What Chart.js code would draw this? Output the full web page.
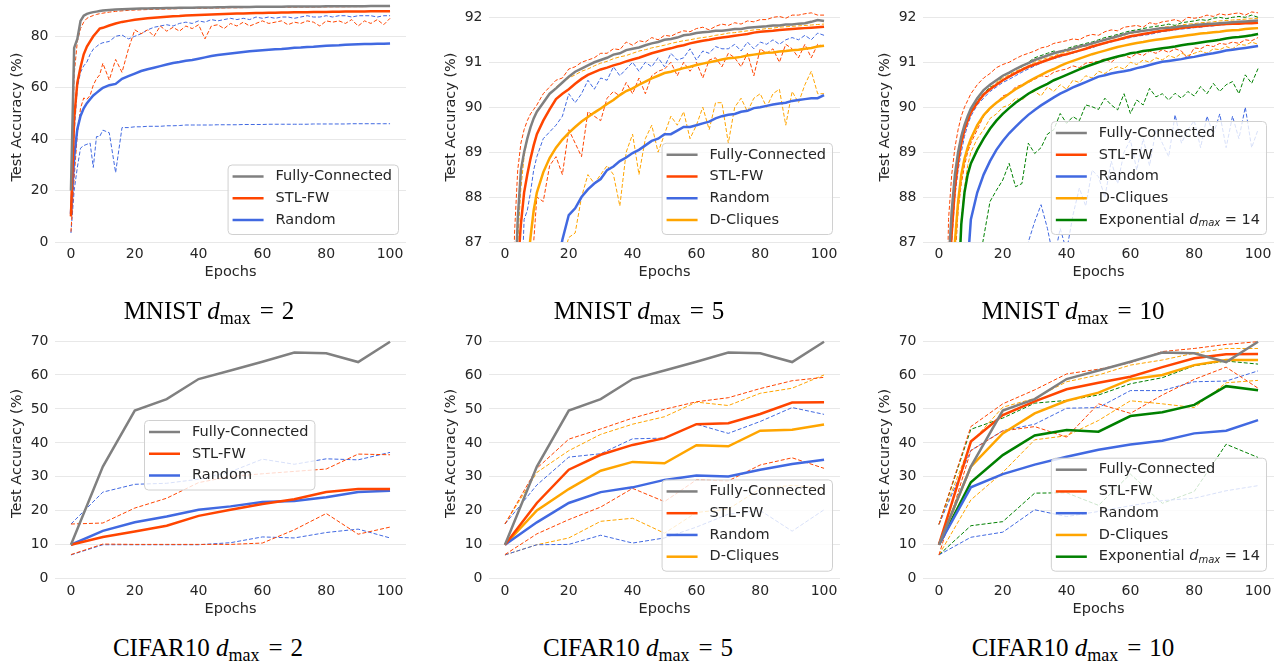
<!DOCTYPE html>
<html>
<head>
<meta charset="utf-8">
<title>Test accuracy vs epochs</title>
<script src="https://cdn.jsdelivr.net/npm/chart.js@4.4.0/dist/chart.umd.min.js"></script>
<style>
  body { margin: 0; background: #fff; width: 1283px; height: 662px; overflow: hidden; position: relative; }
  canvas { position: absolute; }
  .cap { position: absolute; width: 300px; text-align: center; font-family: "Liberation Serif", serif; font-size: 25px; line-height: 28px; color: #000; white-space: nowrap; }
  .cap .sub { font-size: 18px; position: relative; top: 5px; }
  .cap .eq { margin: 0 8px 0 9px; }
</style>
</head>
<body>
<canvas id="c1" width="420" height="317" style="left:0px;top:-30px"></canvas>
<canvas id="c2" width="420" height="317" style="left:434px;top:-30px"></canvas>
<canvas id="c3" width="420" height="317" style="left:868px;top:-30px"></canvas>
<canvas id="c4" width="420" height="324" style="left:0px;top:300px"></canvas>
<canvas id="c5" width="420" height="324" style="left:434px;top:300px"></canvas>
<canvas id="c6" width="420" height="324" style="left:868px;top:300px"></canvas>

<div class="cap" style="left:59px;top:297px">MNIST <i>d</i><span class="sub">max</span><span class="eq">=</span>2</div>
<div class="cap" style="left:489px;top:297px">MNIST <i>d</i><span class="sub">max</span><span class="eq">=</span>5</div>
<div class="cap" style="left:923px;top:297px">MNIST <i>d</i><span class="sub">max</span><span class="eq">=</span>10</div>
<div class="cap" style="left:58px;top:634px">CIFAR10 <i>d</i><span class="sub">max</span><span class="eq">=</span>2</div>
<div class="cap" style="left:488px;top:634px">CIFAR10 <i>d</i><span class="sub">max</span><span class="eq">=</span>5</div>
<div class="cap" style="left:923px;top:634px">CIFAR10 <i>d</i><span class="sub">max</span><span class="eq">=</span>10</div>

<script>
// ---- data ----
const MNIST_EPOCHS = [0, 1, 2, 3, 4, 5, 6, 7, 8, 9, 10,
  12, 14, 16, 18, 20, 22, 24, 26, 28, 30,
  32, 34, 36, 38, 40, 42, 44, 46, 48, 50,
  52, 54, 56, 58, 60, 62, 64, 66, 68, 70,
  72, 74, 76, 78, 80, 82, 84, 86, 88, 90,
  92, 94, 96, 98, 100];
const CIFAR_EPOCHS = [0, 10, 20, 30, 40, 50, 60, 70, 80, 90, 100];

const X_TICKS = [0, 20, 40, 60, 80, 100];
const MNIST2_Y_TICKS = [0, 20, 40, 60, 80];
const MNIST_ZOOM_Y_TICKS = [87, 88, 89, 90, 91, 92];
const CIFAR_Y_TICKS = [0, 10, 20, 30, 40, 50, 60, 70];

// MNIST d_max = 2
const mnist2FC = [20, 75.5, 79, 86, 88, 88.7, 89.1, 89.4, 89.6, 89.8, 90.0,
  90.2, 90.4, 90.5, 90.6, 90.7, 90.8, 90.85, 90.9, 90.95, 91.0,
  91.05, 91.1, 91.1, 91.15, 91.2, 91.2, 91.25, 91.3, 91.3, 91.35,
  91.35, 91.4, 91.4, 91.45, 91.45, 91.5, 91.5, 91.5, 91.55, 91.55,
  91.55, 91.6, 91.6, 91.6, 91.65, 91.65, 91.65, 91.7, 91.7, 91.7,
  91.7, 91.75, 91.75, 91.75, 91.8];
const mnist2STL = [10, 48, 62, 68, 73, 76, 78, 80, 81.5, 83, 83.3,
  84.2, 85, 85.6, 86, 86.4, 86.7, 87, 87.2, 87.4, 87.6,
  87.8, 87.9, 88.1, 88.2, 88.3, 88.4, 88.5, 88.6, 88.7, 88.8,
  88.85, 88.9, 89.0, 89.05, 89.1, 89.15, 89.2, 89.25, 89.3, 89.35,
  89.4, 89.4, 89.45, 89.5, 89.5, 89.55, 89.55, 89.6, 89.6, 89.65,
  89.65, 89.7, 89.7, 89.7, 89.75];
const mnist2Rand = [11, 33, 44, 49, 52, 54, 55.5, 57, 58, 59, 60,
  61, 61.5, 63.5, 64.5, 65.5, 66.5, 67.2, 67.8, 68.4, 69,
  69.6, 70, 70.5, 70.8, 71.3, 71.8, 72.3, 72.7, 73, 73.3,
  73.6, 73.9, 74.2, 74.4, 74.6, 74.8, 75, 75.1, 75.3, 75.5,
  75.6, 75.8, 75.9, 76.1, 76.3, 76.4, 76.5, 76.7, 76.8, 76.9,
  77, 77.05, 77.1, 77.15, 77.2];
const mnist2STLMax = [10, 65, 78, 83, 85.5, 87, 87.6, 88.1, 88.5, 88.8, 89.0,
  89.4, 89.7, 89.9, 90.1, 90.2, 90.3, 90.4, 90.5, 90.55, 90.6,
  90.7, 90.75, 90.8, 90.85, 90.9, 90.95, 91.0, 91.0, 91.05, 91.1,
  91.1, 91.15, 91.2, 91.2, 91.25, 91.25, 91.3, 91.3, 91.35, 91.35,
  91.4, 91.4, 91.4, 91.45, 91.45, 91.5, 91.5, 91.5, 91.55, 91.55,
  91.55, 91.6, 91.6, 91.6, 91.65];
const mnist2STLMin = [4, 25, 42, 52, 56, 55.5, 57, 61, 63.5, 65, 69.5,
  63, 71, 66, 75, 82.5, 81, 82.5, 80, 84, 82,
  83.5, 82, 84, 83, 84.5, 79, 84, 84.5, 83, 85,
  84, 85.5, 84, 85, 86, 85, 85.5, 86, 84.5, 85.5,
  85, 86, 85.5, 84, 86, 85.5, 86, 85, 86.5, 84,
  86, 85, 86.5, 84.5, 87];
const mnist2RandMax = [10, 42, 60, 66, 68.5, 70, 73, 75, 76, 77, 77.5,
  78, 80, 80.5, 79, 80, 81, 82.5, 83.5, 84, 84.5,
  84, 85, 85.5, 85, 86, 85.5, 86.5, 86, 86.5, 87,
  86.5, 87, 86.5, 87.5, 87, 87.5, 87, 87.5, 87.5, 87,
  87.5, 88, 87.5, 87.5, 88, 87.5, 88, 88, 87.5, 88,
  88, 88, 87.5, 88, 88];
const mnist2RandMin = [3.5, 20, 29, 36.5, 37.5, 38, 38.5, 29, 41, 41, 43.5,
  42.5, 27, 44.5, 44.5, 44.8, 44.8, 45, 45, 45, 45.2,
  45.2, 45.3, 45.5, 45.5, 45.5, 45.5, 45.5, 45.6, 45.6, 45.6,
  45.6, 45.7, 45.7, 45.7, 45.7, 45.8, 45.8, 45.8, 45.8, 45.8,
  45.8, 45.8, 45.9, 45.9, 45.9, 45.9, 45.9, 45.9, 46, 46,
  46, 46, 46, 46, 46];

// MNIST d_max = 5
const mnist5FC = [10, 60, 80, 85.5, 87.5, 88.6, 89.0, 89.3, 89.55, 89.75, 89.9,
  90.1, 90.3, 90.42, 90.55, 90.68, 90.79, 90.86, 90.93, 91.0, 91.05,
  91.1, 91.17, 91.2, 91.27, 91.3, 91.33, 91.38, 91.42, 91.45, 91.5,
  91.52, 91.55, 91.6, 91.62, 91.65, 91.67, 91.68, 91.7, 91.7, 91.72,
  91.74, 91.74, 91.77, 91.78, 91.79, 91.8, 91.82, 91.82, 91.84, 91.84,
  91.86, 91.87, 91.9, 91.94, 91.92];
const mnist5STL = [10, 55, 75, 83, 86.4, 87.4, 88.1, 88.5, 88.85, 89.15, 89.4,
  89.7, 89.95, 90.18, 90.3, 90.4, 90.52, 90.63, 90.72, 90.78, 90.84,
  90.88, 90.93, 90.97, 91.02, 91.06, 91.1, 91.15, 91.2, 91.24, 91.28,
  91.31, 91.35, 91.38, 91.42, 91.45, 91.48, 91.5, 91.53, 91.55, 91.57,
  91.59, 91.61, 91.63, 91.66, 91.68, 91.69, 91.7, 91.72, 91.73, 91.74,
  91.75, 91.76, 91.77, 91.78, 91.79];
const mnist5DC = [10, 40, 65, 76, 81, 83.5, 85.2, 86.4, 87.1, 87.7, 88.1,
  88.55, 88.87, 89.1, 89.28, 89.43, 89.56, 89.68, 89.78, 89.88, 89.97,
  90.07, 90.16, 90.27, 90.36, 90.42, 90.5, 90.57, 90.64, 90.7, 90.76,
  90.79, 90.83, 90.87, 90.9, 90.94, 90.97, 91.0, 91.03, 91.06, 91.09,
  91.1, 91.12, 91.15, 91.17, 91.19, 91.21, 91.22, 91.24, 91.25, 91.27,
  91.28, 91.3, 91.32, 91.35, 91.37];
const mnist5Rand = [10, 30, 50, 62, 70, 74, 77, 79, 80.5, 81.8, 82.8,
  84.2, 85.3, 86.3, 87.05, 87.6, 87.75, 88.0, 88.17, 88.3, 88.4,
  88.6, 88.68, 88.8, 88.88, 88.98, 89.05, 89.15, 89.25, 89.3, 89.4,
  89.4, 89.48, 89.56, 89.56, 89.6, 89.64, 89.68, 89.75, 89.8, 89.83,
  89.85, 89.9, 89.92, 89.98, 90.0, 90.03, 90.06, 90.08, 90.1, 90.14,
  90.16, 90.18, 90.2, 90.2, 90.27];
const mnist5STLMax = [10, 65, 83, 87.2, 88.6, 89.2, 89.5, 89.7, 89.85, 89.95, 90.05,
  90.3, 90.45, 90.6, 90.65, 90.85, 90.9, 91.0, 91.05, 91.1, 91.2,
  91.2, 91.3, 91.28, 91.45, 91.38, 91.48, 91.45, 91.55, 91.5, 91.6,
  91.58, 91.65, 91.7, 91.68, 91.75, 91.78, 91.72, 91.8, 91.85, 91.82,
  91.88, 91.85, 91.92, 91.9, 91.95, 91.95, 92.0, 92.02, 91.98, 92.05,
  92.05, 92.08, 92.1, 92.05, 92.05];
const mnist5STLMin = [10, 30, 55, 70, 78, 82, 84, 85.5, 86.5, 87.0, 88.0,
  87.9, 88.7, 88.9, 88.5, 89.5, 89.2, 88.9, 89.9, 89.8, 89.7,
  90.2, 90.35, 90.25, 90.55, 90.3, 90.65, 90.3, 90.7, 90.8, 90.85,
  91.0, 90.7, 91.0, 90.8, 91.0, 90.65, 91.05, 91.1, 90.9, 91.2,
  91.1, 90.9, 91.2, 90.7, 91.3, 91.2, 91.3, 91.0, 91.4, 91.3,
  91.1, 91.4, 91.1, 91.4, 91.35];
const mnist5DCMax = [10, 55, 78, 85, 87.0, 88.2, 88.9, 89.3, 89.55, 89.75, 89.9,
  90.1, 90.3, 90.45, 90.55, 90.65, 90.72, 90.8, 90.85, 90.92, 90.98,
  91.02, 91.08, 91.12, 91.15, 91.2, 91.25, 91.28, 91.32, 91.35, 91.38,
  91.42, 91.45, 91.48, 91.5, 91.53, 91.55, 91.57, 91.6, 91.62, 91.65,
  91.66, 91.68, 91.7, 91.72, 91.73, 91.75, 91.76, 91.78, 91.79, 91.8,
  91.81, 91.82, 91.83, 91.84, 91.85];
const mnist5DCMin = [10, 20, 40, 55, 65, 72, 76, 79, 81, 82.5, 83.5,
  84.5, 85.3, 86, 86.6, 87.1, 87.2, 88.0, 88.5, 88.3, 88.5,
  88.7, 88.5, 87.8, 89.0, 89.4, 88.5, 89.3, 89.6, 89.0, 89.4,
  89.8, 89.6, 89.9, 89.3, 89.6, 90.0, 89.5, 90.1, 90.1, 89.2,
  90.0, 90.2, 89.9, 90.2, 90.3, 90.0, 90.3, 90.4, 89.6, 90.35,
  90.1, 90.5, 90.8, 90.3, 90.3];
const mnist5RandMax = [10, 40, 65, 76, 82, 85.5, 87.5, 87.7, 88.1, 88.6, 88.9,
  89.3, 89.45, 89.6, 89.8, 90.3, 90.1, 90.3, 90.6, 90.4, 90.65,
  90.6, 90.9, 90.7, 90.85, 91.0, 90.8, 91.0, 90.9, 91.1, 90.9,
  91.2, 91.05, 91.1, 91.3, 91.05, 91.25, 91.2, 91.35, 91.3, 91.3,
  91.4, 91.25, 91.45, 91.3, 91.45, 91.4, 91.5, 91.4, 91.5, 91.55,
  91.5, 91.6, 91.5, 91.65, 91.6];

// MNIST d_max = 10
const mnist10FC = [10, 62, 82, 86.5, 87.7, 88.5, 89.0, 89.35, 89.6, 89.8, 89.97,
  90.2, 90.38, 90.5, 90.6, 90.7, 90.77, 90.85, 90.92, 90.98, 91.05,
  91.1, 91.15, 91.2, 91.24, 91.27, 91.3, 91.35, 91.38, 91.42, 91.46,
  91.5, 91.54, 91.58, 91.62, 91.66, 91.68, 91.7, 91.72, 91.74, 91.76,
  91.77, 91.78, 91.8, 91.81, 91.83, 91.84, 91.85, 91.86, 91.87, 91.88,
  91.89, 91.9, 91.91, 91.92, 91.93];
const mnist10STL = [10, 58, 80, 86, 87.2, 88.2, 88.8, 89.2, 89.5, 89.7, 89.88,
  90.1, 90.28, 90.4, 90.5, 90.6, 90.68, 90.76, 90.83, 90.9, 90.95,
  91.0, 91.05, 91.1, 91.15, 91.18, 91.22, 91.26, 91.3, 91.35, 91.39,
  91.43, 91.47, 91.5, 91.54, 91.58, 91.6, 91.63, 91.65, 91.68, 91.7,
  91.72, 91.74, 91.76, 91.78, 91.79, 91.8, 91.82, 91.83, 91.84, 91.85,
  91.86, 91.86, 91.87, 91.87, 91.88];
const mnist10DC = [10, 45, 72, 82, 85.5, 87.0, 87.9, 88.5, 88.85, 89.1, 89.3,
  89.6, 89.82, 89.98, 90.1, 90.2, 90.3, 90.4, 90.48, 90.57, 90.65,
  90.72, 90.79, 90.85, 90.92, 90.98, 91.03, 91.08, 91.13, 91.18, 91.22,
  91.26, 91.3, 91.34, 91.37, 91.4, 91.43, 91.45, 91.48, 91.5, 91.52,
  91.54, 91.56, 91.58, 91.6, 91.62, 91.64, 91.65, 91.67, 91.68, 91.7,
  91.71, 91.72, 91.74, 91.75, 91.76];
const mnist10Rand = [10, 25, 45, 60, 70, 76, 80, 83, 85, 86.5, 87.5,
  88.1, 88.5, 88.8, 89.05, 89.25, 89.42, 89.56, 89.7, 89.83, 89.94,
  90.04, 90.13, 90.22, 90.3, 90.37, 90.44, 90.5, 90.56, 90.62, 90.68,
  90.71, 90.75, 90.78, 90.8, 90.83, 90.87, 90.9, 90.94, 90.98, 91.01,
  91.03, 91.05, 91.07, 91.1, 91.12, 91.15, 91.18, 91.2, 91.23, 91.26,
  91.28, 91.3, 91.32, 91.34, 91.36];
const mnist10Exp = [10, 35, 60, 74, 80, 83.5, 85.8, 87.4, 88.1, 88.5, 88.75,
  89.05, 89.3, 89.52, 89.7, 89.85, 89.98, 90.1, 90.2, 90.3, 90.38,
  90.45, 90.52, 90.6, 90.66, 90.72, 90.78, 90.84, 90.9, 90.95, 91.0,
  91.05, 91.09, 91.13, 91.16, 91.2, 91.22, 91.25, 91.27, 91.29, 91.31,
  91.33, 91.35, 91.38, 91.4, 91.42, 91.44, 91.46, 91.48, 91.5, 91.53,
  91.55, 91.56, 91.58, 91.6, 91.63];
const mnist10STLMax = [10, 66, 84, 87.5, 88.5, 89.1, 89.5, 89.8, 90.0, 90.15, 90.3,
  90.5, 90.65, 90.75, 90.88, 90.95, 91.0, 91.08, 91.15, 91.2, 91.25,
  91.32, 91.35, 91.42, 91.45, 91.48, 91.52, 91.5, 91.58, 91.62, 91.6,
  91.68, 91.72, 91.7, 91.78, 91.8, 91.82, 91.78, 91.88, 91.85, 91.9,
  91.92, 91.95, 91.9, 92.0, 91.98, 92.0, 92.05, 92.02, 92.08, 92.05,
  92.08, 92.1, 92.05, 92.12, 92.1];
const mnist10STLMin = [10, 40, 66, 78, 84, 86.5, 87.7, 88.3, 88.7, 89.0, 89.2,
  89.5, 89.8, 89.95, 90.1, 90.25, 90.3, 90.45, 90.5, 90.55, 90.62,
  90.7, 90.68, 90.78, 90.82, 90.85, 90.92, 90.88, 90.98, 91.0, 91.02,
  91.08, 91.0, 91.12, 91.15, 91.1, 91.2, 91.15, 91.25, 91.2, 91.28,
  91.22, 91.3, 91.25, 91.08, 91.32, 91.3, 91.38, 91.35, 91.42, 91.4,
  91.45, 91.42, 91.5, 91.48, 91.55];
const mnist10DCMax = [10, 60, 80, 86, 87.4, 88.3, 88.8, 89.2, 89.5, 89.7, 89.88,
  90.1, 90.3, 90.42, 90.55, 90.65, 90.72, 90.8, 90.86, 90.92, 91.0,
  91.05, 91.1, 91.14, 91.2, 91.23, 91.28, 91.32, 91.36, 91.4, 91.45,
  91.5, 91.52, 91.56, 91.6, 91.64, 91.66, 91.7, 91.72, 91.75, 91.78,
  91.79, 91.8, 91.83, 91.85, 91.86, 91.88, 91.89, 91.9, 91.92, 91.93,
  91.94, 91.95, 91.96, 91.97, 91.98];
const mnist10DCMin = [10, 30, 55, 70, 78, 83, 86, 87.5, 88.2, 88.7, 89.0,
  89.3, 89.5, 89.75, 89.85, 90.0, 90.05, 90.2, 90.15, 90.3, 90.35,
  90.25, 90.45, 90.35, 90.5, 90.4, 90.6, 90.55, 90.7, 90.65, 90.8,
  90.75, 90.85, 90.9, 90.85, 91.0, 90.95, 91.05, 91.0, 91.1, 91.05,
  91.15, 91.1, 91.2, 91.15, 91.2, 91.25, 91.2, 91.3, 91.28, 91.35,
  91.3, 91.4, 91.38, 91.45, 91.4];
const mnist10RandMax = [10, 55, 78, 85, 87.0, 88.0, 88.6, 89.0, 89.35, 89.6, 89.8,
  90.05, 90.2, 90.35, 90.45, 90.55, 90.62, 90.7, 90.78, 90.85, 90.92,
  90.98, 91.05, 91.08, 91.12, 91.18, 91.2, 91.25, 91.3, 91.32, 91.38,
  91.42, 91.45, 91.5, 91.52, 91.55, 91.58, 91.6, 91.62, 91.65, 91.68,
  91.7, 91.72, 91.74, 91.75, 91.77, 91.78, 91.8, 91.81, 91.83, 91.84,
  91.85, 91.86, 91.88, 91.9, 91.9];
const mnist10RandMin = [3, 10, 20, 30, 40, 50, 58, 64, 68, 71, 74,
  77, 79, 80.5, 82, 83, 84, 84.8, 85.5, 87.0, 87.45,
  87.83, 87.3, 86.6, 87.3, 86.8, 87.6, 88.2, 87.8, 88.6, 88.45,
  88.0, 88.8, 88.3, 89.0, 89.27, 88.6, 89.3, 88.7, 89.5, 89.2,
  88.9, 89.83, 89.2, 89.5, 89.7, 89.1, 89.8, 89.4, 89.85, 89.1,
  89.8, 89.3, 90.0, 89.1, 89.5];
const mnist10ExpMax = [10, 58, 80, 86, 87.3, 88.2, 88.8, 89.25, 89.55, 89.75, 89.9,
  90.15, 90.3, 90.45, 90.5, 90.7, 90.75, 90.85, 90.9, 91.0, 91.1,
  91.15, 91.2, 91.25, 91.22, 91.3, 91.35, 91.38, 91.42, 91.45, 91.5,
  91.55, 91.58, 91.62, 91.66, 91.7, 91.72, 91.75, 91.78, 91.8, 91.82,
  91.85, 91.82, 91.88, 91.9, 91.92, 91.95, 91.93, 91.98, 92.0, 91.97,
  92.0, 92.02, 92.0, 92.05, 92.0];
const mnist10ExpMin = [3, 10, 20, 30, 40, 50, 58, 64, 68, 72, 76,
  86.3, 87.1, 87.9, 88.15, 88.38, 88.75, 88.23, 88.3, 89.2, 88.97,
  89.1, 89.4, 89.5, 89.86, 89.64, 89.79, 89.7, 90.05, 90.01, 89.95,
  90.2, 90.05, 89.94, 90.3, 89.86, 90.16, 90.05, 90.42, 90.23, 90.3,
  90.16, 90.31, 90.2, 90.35, 90.25, 90.46, 90.3, 90.53, 90.35, 90.5,
  90.57, 90.3, 90.72, 90.53, 90.86];

// CIFAR10 (fully-connected is the same run for every d_max)
const cifarFC = [10, 33, 49.5, 52.9, 58.8, 61.3, 63.9, 66.6, 66.4, 63.8, 69.8];

const cifar2STL = [10, 12.3, 13.9, 15.6, 18.5, 20.3, 22, 23.4, 25.5, 26.4, 26.4];
const cifar2Rand = [10, 14.1, 16.6, 18.3, 20.3, 21.3, 22.6, 22.9, 24, 25.5, 25.9];
const cifar2STLMax = [16.1, 16.4, 20.8, 23.7, 28.3, 30.1, 30.9, 31.6, 32.3, 36.7, 36.5];
const cifar2STLMin = [7.1, 10.2, 10.1, 10.1, 10.1, 10.1, 10.5, 14.4, 19.2, 13.1, 15.2];
const cifar2RandMax = [16.1, 25.5, 27.8, 28.1, 29.3, 31.5, 35.2, 33.7, 35.3, 35, 37.2];
const cifar2RandMin = [7, 10, 10, 10, 10, 10.6, 12.3, 12, 13.6, 14.6, 12];

const cifar5STL = [10, 22.3, 32.1, 36.5, 39.4, 41.4, 45.5, 45.8, 48.5, 51.9, 52];
const cifar5Rand = [10, 16.6, 22.3, 25.5, 26.9, 29.1, 30.4, 30.1, 32.1, 33.8, 35];
const cifar5DC = [10, 20.1, 26.4, 31.8, 34.4, 34, 39.3, 39, 43.6, 43.9, 45.4];
const cifar5STLMax = [16.1, 32.5, 41.1, 44.1, 47.3, 49.9, 52.1, 53.3, 56, 58.3, 59.3];
const cifar5STLMin = [7.1, 13.2, 17.4, 21.1, 26.6, 22.7, 29.1, 28.8, 33.5, 35.6, 32.5];
const cifar5RandMax = [16.1, 27.6, 35.8, 36.8, 41.2, 41.4, 45.5, 42.8, 46.3, 50.4, 48.4];
const cifar5RandMin = [7, 10, 10.1, 12.8, 10.5, 12, 15.2, 19, 20.1, 14, 20.3];
const cifar5DCMax = [16.1, 31.3, 37.7, 42.5, 45.5, 47.7, 52, 51, 54.6, 56.1, 60];
const cifar5DCMin = [7, 10, 12, 16.9, 17.8, 13.4, 19.5, 20.5, 26.5, 27.5, 26.5];

const cifar10STL = [10, 40.4, 48.2, 52.2, 55.8, 57.7, 59.5, 62.3, 64.9, 66.1, 66.2];
const cifar10Rand = [10, 26.9, 30.8, 33.6, 35.9, 38, 39.5, 40.6, 42.8, 43.6, 46.7];
const cifar10DC = [10, 33, 42.8, 48.7, 52.4, 54.8, 58.7, 60, 62.9, 64.4, 64.4];
const cifar10Exp = [10, 28.4, 36.4, 42.2, 43.8, 43.3, 47.9, 49, 51.2, 56.7, 55.5];
const cifar10STLMax = [16, 44.8, 51.5, 55.6, 60.3, 61.7, 63.6, 66.9, 67.8, 69, 69.8];
const cifar10STLMin = [7, 37.7, 43.5, 44.8, 41.7, 51.5, 48.7, 54.1, 58.7, 62.3, 56.1];
const cifar10RandMax = [16, 37.8, 43.6, 45.5, 50.2, 50.4, 55.4, 55.4, 58, 58.2, 61.2];
const cifar10RandMin = [7, 12.2, 13.7, 20.3, 18.3, 19.8, 21.5, 23, 23.7, 25.9, 27.4];
const cifar10DCMax = [16, 40, 50.5, 53.1, 58, 60, 62.9, 64.4, 66.4, 67.8, 67.8];
const cifar10DCMin = [7, 23.2, 31.3, 40.9, 42.1, 46.6, 52.4, 51.5, 50.4, 57.7, 58.4];
const cifar10ExpMax = [16, 44, 47.3, 51.7, 52.5, 54.1, 57.4, 59.2, 62.7, 64.1, 63.2];
const cifar10ExpMin = [7, 15.6, 16.8, 25.2, 25.3, 21.6, 30.8, 22.2, 25.7, 39.6, 35.7];

// ---- styling ----
const GRAY = '#808080';
const RED = '#ff4500';
const BLUE = '#4169e1';
const ORANGE = '#ffa500';
const GREEN = '#008000';
const TEXT = '#262626';
const FONT = '"DejaVu Sans", sans-serif';

const LABEL_FC = [{ t: 'Fully-Connected' }];
const LABEL_STL = [{ t: 'STL-FW' }];
const LABEL_RAND = [{ t: 'Random' }];
const LABEL_DC = [{ t: 'D-Cliques' }];
const LABEL_EXP = [{ t: 'Exponential ' }, { t: 'd', it: true }, { t: 'max', it: true, sub: true }, { t: ' = 14' }];

// legend drawn as a framed box inside the plot area (matplotlib style)
function drawParts(ctx, parts, x, y, draw) {
    let cx = x;
    parts.forEach(p => {
        ctx.font = (p.it ? 'italic ' : '') + (p.sub ? '10px ' : '14.5px ') + FONT;
        if (draw) ctx.fillText(p.t, cx, y + (p.sub ? 3.5 : 0));
        cx += ctx.measureText(p.t).width;
    });
    return cx - x;
}

const boxLegend = {
    id: 'boxLegend',
    afterDatasetsDraw(chart, args, opts) {
        const { ctx, chartArea: a } = chart;
        const items = opts.items || [];
        if (!items.length) return;
        ctx.save();
        const textW = Math.max(...items.map(it => drawParts(ctx, it.parts, 0, 0, false)));
        const w = 5 + 31 + 12 + textW + 6;
        const h = 26 + (items.length - 1) * 21.75;
        let x, y;
        if (opts.left != null) {
            x = a.left + opts.left;
            y = a.top + opts.top;
        } else {
            x = a.right - 8 - w;
            y = a.bottom - 8 - h;
        }
        ctx.beginPath();
        ctx.roundRect(x + 0.5, y + 0.5, w, h, 4);
        ctx.fillStyle = 'rgba(255,255,255,0.8)';
        ctx.fill();
        ctx.strokeStyle = '#d0d0d0';
        ctx.lineWidth = 1;
        ctx.stroke();
        ctx.textBaseline = 'middle';
        ctx.fillStyle = TEXT;
        items.forEach((it, i) => {
            const cy = y + 12 + i * 21.75;
            ctx.beginPath();
            ctx.moveTo(x + 5, cy);
            ctx.lineTo(x + 36, cy);
            ctx.strokeStyle = it.color;
            ctx.lineWidth = 2.5;
            ctx.stroke();
            drawParts(ctx, it.parts, x + 48, cy, true);
        });
        ctx.restore();
    }
};

function series(xs, ys, color, dashed) {
    return {
        data: xs.map((x, i) => ({ x: x, y: ys[i] })),
        borderColor: color,
        borderWidth: dashed ? 1 : 2.5,
        borderDash: dashed ? [4, 2] : [],
        pointRadius: 0,
        tension: 0,
        fill: false,
        order: dashed ? 1 : 0
    };
}

function makeChart(id, cfg) {
    const datasets = [];
    cfg.solid.forEach(([ys, c]) => datasets.push(series(cfg.epochs, ys, c, false)));
    cfg.dashed.forEach(([ys, c]) => datasets.push(series(cfg.epochs, ys, c, true)));
    return new Chart(document.getElementById(id), {
        type: 'line',
        data: { datasets: datasets },
        plugins: [boxLegend],
        options: {
            responsive: false,
            animation: false,
            devicePixelRatio: 1,
            layout: { padding: { top: cfg.padTop, right: 14, bottom: 0, left: 0 } },
            plugins: {
                legend: { display: false },
                tooltip: { enabled: false },
                boxLegend: cfg.legend
            },
            scales: {
                x: {
                    type: 'linear',
                    min: -5,
                    max: 105,
                    afterBuildTicks: s => { s.ticks = X_TICKS.map(v => ({ value: v })); },
                    afterFit: s => { s.height = cfg.xHeight; },
                    grid: { display: false, drawTicks: false },
                    border: { display: false },
                    ticks: { color: TEXT, font: { family: FONT, size: 14 }, padding: 4, maxRotation: 0 },
                    title: { display: true, text: 'Epochs', color: TEXT, font: { family: FONT, size: 14.5 }, padding: { top: 0, bottom: 5.6 } }
                },
                y: {
                    min: cfg.yMin,
                    max: cfg.yMax,
                    afterBuildTicks: s => { s.ticks = cfg.yTicks.map(v => ({ value: v })); },
                    afterFit: s => { s.width = 55; },
                    grid: { color: '#e8e8e8', lineWidth: 1, drawTicks: false },
                    border: { display: false },
                    ticks: { color: TEXT, font: { family: FONT, size: 14 }, padding: 6.5 },
                    title: { display: true, text: 'Test Accuracy (%)', color: TEXT, font: { family: FONT, size: 14.5 }, padding: { top: 9, bottom: 0 } }
                }
            }
        }
    });
}

const legend3 = [
    { parts: LABEL_FC, color: GRAY },
    { parts: LABEL_STL, color: RED },
    { parts: LABEL_RAND, color: BLUE }
];
const legend4 = legend3.concat([{ parts: LABEL_DC, color: ORANGE }]);
const legend5 = legend4.concat([{ parts: LABEL_EXP, color: GREEN }]);

// row 1: MNIST
makeChart('c1', {
    epochs: MNIST_EPOCHS, yMin: 0, yMax: 97.23, yTicks: MNIST2_Y_TICKS, padTop: 22, xHeight: 45,
    solid: [[mnist2FC, GRAY], [mnist2STL, RED], [mnist2Rand, BLUE]],
    dashed: [[mnist2STLMax, RED], [mnist2STLMin, RED], [mnist2RandMax, BLUE], [mnist2RandMin, BLUE]],
    legend: { items: legend3 }
});
makeChart('c2', {
    epochs: MNIST_EPOCHS, yMin: 87, yMax: 92.564, yTicks: MNIST_ZOOM_Y_TICKS, padTop: 22, xHeight: 45,
    solid: [[mnist5FC, GRAY], [mnist5STL, RED], [mnist5Rand, BLUE], [mnist5DC, ORANGE]],
    dashed: [[mnist5STLMax, RED], [mnist5STLMin, RED], [mnist5RandMax, BLUE], [mnist5DCMax, ORANGE], [mnist5DCMin, ORANGE]],
    legend: { items: legend4 }
});
makeChart('c3', {
    epochs: MNIST_EPOCHS, yMin: 87, yMax: 92.564, yTicks: MNIST_ZOOM_Y_TICKS, padTop: 22, xHeight: 45,
    solid: [[mnist10FC, GRAY], [mnist10STL, RED], [mnist10Rand, BLUE], [mnist10DC, ORANGE], [mnist10Exp, GREEN]],
    dashed: [[mnist10STLMax, RED], [mnist10STLMin, RED], [mnist10RandMax, BLUE], [mnist10RandMin, BLUE],
             [mnist10DCMax, ORANGE], [mnist10DCMin, ORANGE], [mnist10ExpMax, GREEN], [mnist10ExpMin, GREEN]],
    legend: { items: legend5 }
});

// row 2: CIFAR10
makeChart('c4', {
    epochs: CIFAR_EPOCHS, yMin: 0, yMax: 73.83, yTicks: CIFAR_Y_TICKS, padTop: 28, xHeight: 45.3,
    solid: [[cifarFC, GRAY], [cifar2STL, RED], [cifar2Rand, BLUE]],
    dashed: [[cifar2STLMax, RED], [cifar2STLMin, RED], [cifar2RandMax, BLUE], [cifar2RandMin, BLUE]],
    legend: { items: legend3, left: 89, top: 92 }
});
makeChart('c5', {
    epochs: CIFAR_EPOCHS, yMin: 0, yMax: 73.83, yTicks: CIFAR_Y_TICKS, padTop: 28, xHeight: 45.3,
    solid: [[cifarFC, GRAY], [cifar5STL, RED], [cifar5Rand, BLUE], [cifar5DC, ORANGE]],
    dashed: [[cifar5STLMax, RED], [cifar5STLMin, RED], [cifar5RandMax, BLUE], [cifar5RandMin, BLUE],
             [cifar5DCMax, ORANGE], [cifar5DCMin, ORANGE]],
    legend: { items: legend4 }
});
makeChart('c6', {
    epochs: CIFAR_EPOCHS, yMin: 0, yMax: 73.83, yTicks: CIFAR_Y_TICKS, padTop: 28, xHeight: 45.3,
    solid: [[cifarFC, GRAY], [cifar10STL, RED], [cifar10Rand, BLUE], [cifar10DC, ORANGE], [cifar10Exp, GREEN]],
    dashed: [[cifar10STLMax, RED], [cifar10STLMin, RED], [cifar10RandMax, BLUE], [cifar10RandMin, BLUE],
             [cifar10DCMax, ORANGE], [cifar10DCMin, ORANGE], [cifar10ExpMax, GREEN], [cifar10ExpMin, GREEN]],
    legend: { items: legend5 }
});
</script>
</body>
</html>
